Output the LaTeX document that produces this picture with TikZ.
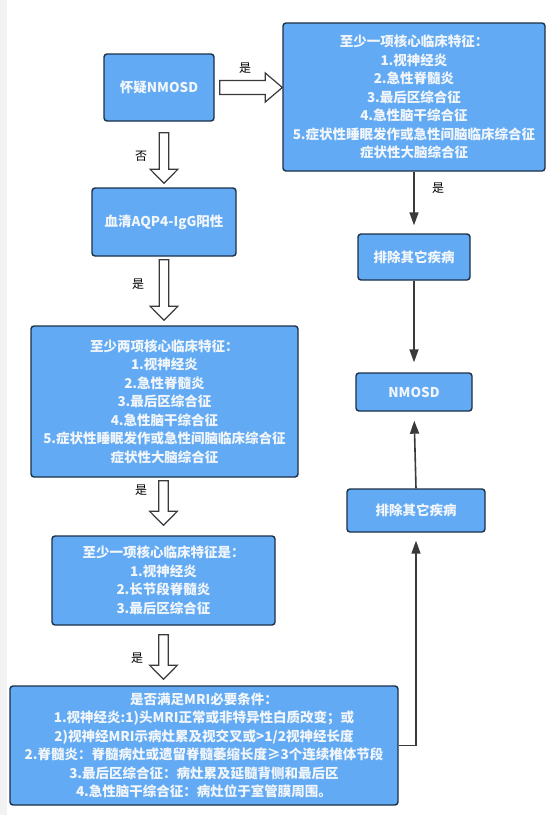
\documentclass[tikz,border=0pt]{standalone}
\usepackage{fontspec}
\setmainfont{Noto Sans CJK SC}
\usetikzlibrary{arrows.meta,calc}

\definecolor{boxblue}{HTML}{62ABF4}
\definecolor{boxline}{HTML}{1C3048}
\definecolor{arrgray}{HTML}{3A3A3A}
\definecolor{boxtext}{HTML}{F2F6FA}

\tikzset{
  box/.style = {draw = boxline, line width = 1.4pt, fill = boxblue, rounded corners = 3pt,
                text = boxtext, align = center, inner sep = 0pt,
                font = \fontsize{13.5}{18.5}\selectfont\bfseries},
  fatarrow/.style = {draw = arrgray, line width = 1.2pt, fill = white, line join = miter},
  thinarrow/.style = {draw = arrgray, line width = 1.6pt, -{Triangle[length = 13pt, width = 9pt]}},
  yesno/.style = {font = \fontsize{12}{14}\selectfont, text = black}
}

% hollow block arrows
\newcommand{\fatdown}[2]{%
  \draw[fatarrow] let \p1 = #1, \p2 = #2 in
    (\x1-4.75pt,\y1) -- (\x1+4.75pt,\y1) -- (\x1+4.75pt,\y2+14pt)
    -- (\x1+13.8pt,\y2+14pt) -- (\x1,\y2) -- (\x1-13.8pt,\y2+14pt)
    -- (\x1-4.75pt,\y2+14pt) -- cycle;}
\newcommand{\fatright}[2]{%
  \draw[fatarrow] let \p1 = #1, \p2 = #2 in
    (\x1,\y1+7pt) -- (\x2-17pt,\y1+7pt) -- (\x2-17pt,\y1+14.5pt)
    -- (\x2,\y1) -- (\x2-17pt,\y1-14.5pt) -- (\x2-17pt,\y1-7pt)
    -- (\x1,\y1-7pt) -- cycle;}

\begin{document}
\begin{tikzpicture}[x = 1pt, y = -1pt]
  \useasboundingbox (0, 0) rectangle (558, 815);
  \fill[white] (0, 0) rectangle (558, 815);
  \fill[gray!10] (0, 0) rectangle (7, 815);

  % left column
  \node[box, minimum width = 110pt, minimum height = 67pt] (susp) at (159, 87.5) {怀疑NMOSD};
  \node[box, minimum width = 144pt, minimum height = 68pt] (aqp) at (164, 222) {血清AQP4-IgG阳性};
  \node[box, minimum width = 267pt, minimum height = 151pt] (two) at (164.5, 401.5)
    {至少两项核心临床特征：\\1.视神经炎\\2.急性脊髓炎\\3.最后区综合征\\4.急性脑干综合征\\5.症状性睡眠发作或急性间脑临床综合征\\症状性大脑综合征};
  \node[box, minimum width = 223pt, minimum height = 89pt] (one) at (163.5, 580.5)
    {至少一项核心临床特征是：\\1.视神经炎\\2.长节段脊髓炎\\3.最后区综合征};
  \node[box, minimum width = 388pt, minimum height = 119pt] (mri) at (204, 745.5)
    {是否满足MRI必要条件：\\1.视神经炎:1)头MRI正常或非特异性白质改变；或\\2)视神经MRI示病灶累及视交叉或>1/2视神经长度\\2.脊髓炎：脊髓病灶或遗留脊髓萎缩长度≥3个连续椎体节段\\3.最后区综合征：病灶累及延髓背侧和最后区\\4.急性脑干综合征：病灶位于室管膜周围。};

  % right column
  \node[box, minimum width = 262pt, minimum height = 148pt] (core) at (414, 97)
    {至少一项核心临床特征：\\1.视神经炎\\2.急性脊髓炎\\3.最后区综合征\\4.急性脑干综合征\\5.症状性睡眠发作或急性间脑临床综合征\\症状性大脑综合征};
  \node[box, minimum width = 112pt, minimum height = 46pt] (exclA) at (414, 257) {排除其它疾病};
  \node[box, minimum width = 116pt, minimum height = 38pt] (nmosd) at (414, 392) {NMOSD};
  \node[box, minimum width = 138pt, minimum height = 43pt] (exclB) at (416, 510.5) {排除其它疾病};

  % block arrows
  \fatright{($(susp.east) + (5, 0)$)}{(core.west |- susp.east)}
  \node[yesno] (yesA) at (245, 68) {是};
  \fatdown{($(aqp.north |- susp.south) + (0, 11)$)}{($(aqp.north) + (0, -4)$)}
  \node[yesno] (noA) at (141, 156) {否};
  \fatdown{($(aqp.south) + (0, 3)$)}{($(two.north) + (0, -5)$)}
  \node[yesno] (yesB) at (138, 284) {是};
  \fatdown{($(one.north |- two.south) + (0, 3)$)}{($(one.north) + (0, -10)$)}
  \node[yesno] (yesC) at (141, 490) {是};
  \fatdown{($(one.south) + (0, 9)$)}{($(one.south |- mri.north) + (0, -6)$)}
  \node[yesno] (yesD) at (137, 658) {是};

  % thin arrows
  \draw[thinarrow, shorten > = 8pt] (core.south) -- (exclA.north);
  \node[yesno] (yesE) at (438, 188) {是};
  \draw[thinarrow, shorten > = 10pt] (exclA.south) -- (nmosd.north);
  \draw[thinarrow, shorten > = 9pt] (exclB.north) -- (nmosd.south);
  \draw[thinarrow, shorten > = 8pt] (mri.east) -| (exclB.south);
\end{tikzpicture}
\end{document}
